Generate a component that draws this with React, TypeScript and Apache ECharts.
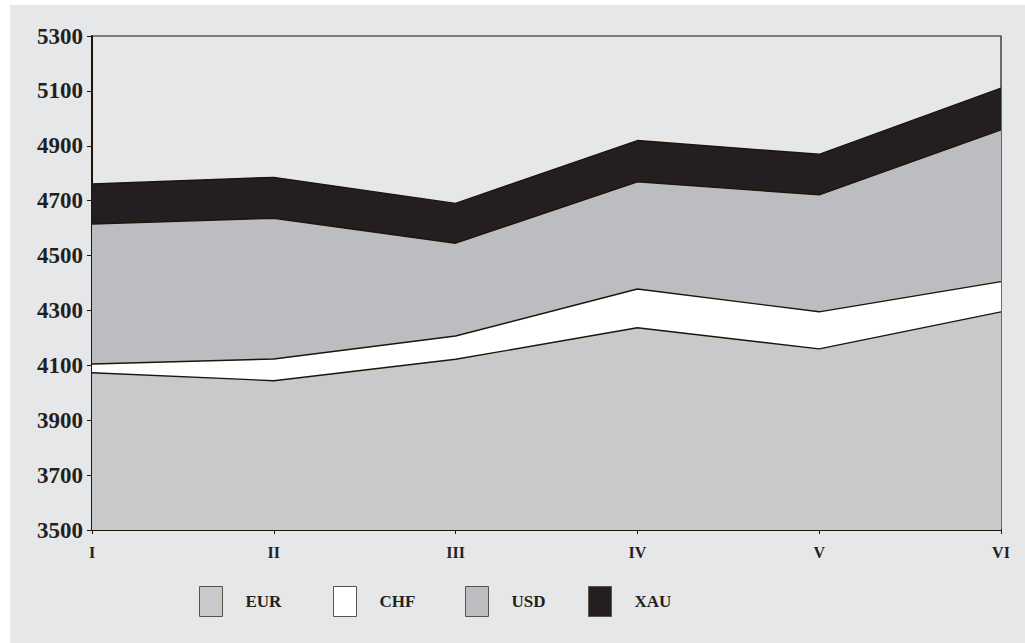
import React, { useEffect, useRef } from "react";
import * as echarts from "echarts";

const categories = ["I", "II", "III", "IV", "V", "VI"];
const seriesNames = ["EUR", "CHF", "USD", "XAU"];
const eurValues = [4073, 4044, 4122, 4237, 4160, 4295];
const chfValues = [32, 79, 85, 141, 135, 110];
const usdValues = [510, 513, 338, 391, 426, 553];
const xauValues = [146, 149, 145, 150, 148, 152];
const yTicks = { min: 3500, max: 5300, interval: 200 };

const fills = ["#c8c9cb", "#ffffff", "#bcbdc1", "#231f20"];
const lineColor = "#1e1408";
const textColor = "#231f20";
const font = "'Liberation Serif', 'Times New Roman', serif";

export default function App() {
  const ref = useRef<HTMLDivElement>(null);
  useEffect(() => {
    if (!ref.current) return;
    const chart = echarts.init(ref.current, undefined, { renderer: "svg" });
    const data = [eurValues, chfValues, usdValues, xauValues];
    const legendLefts = [189, 323, 455, 578];
    chart.setOption({
      animation: false,
      backgroundColor: "#e6e7e9",
      grid: {
        left: 82,
        top: 31,
        right: 24,
        bottom: 113,
        show: true,
        borderColor: lineColor,
        borderWidth: 1.2,
        backgroundColor: "transparent",
      },
      legend: seriesNames.map((n, i) => ({
        data: [
          {
            name: n,
            icon: "rect",
            itemStyle: { color: fills[i], borderColor: "#5a5247", borderWidth: 1 },
          },
        ],
        left: legendLefts[i],
        top: 581,
        padding: 0,
        itemWidth: 23,
        itemHeight: 30,
        selectedMode: false,
        textStyle: {
          fontFamily: font,
          fontWeight: "bold",
          fontSize: 17,
          color: textColor,
          padding: [0, 0, 0, 18],
        },
      })),
      xAxis: {
        type: "category",
        data: categories,
        boundaryGap: false,
        axisLine: { show: true, lineStyle: { color: lineColor, width: 2 } },
        axisTick: { show: true, length: 4, lineStyle: { color: lineColor } },
        axisLabel: {
          fontFamily: font,
          fontWeight: "bold",
          fontSize: 16,
          color: textColor,
          margin: 14,
        },
        splitLine: { show: false },
      },
      yAxis: {
        type: "value",
        min: yTicks.min,
        max: yTicks.max,
        interval: yTicks.interval,
        axisLine: { show: true, lineStyle: { color: lineColor, width: 2 } },
        axisTick: { show: true, length: 5, lineStyle: { color: lineColor } },
        axisLabel: {
          fontFamily: font,
          fontWeight: "bold",
          fontSize: 23,
          color: textColor,
          margin: 9,
          formatter: (v: number) => String(v),
        },
        splitLine: { show: false },
      },
      series: seriesNames.map((n, i) => ({
        name: n,
        type: "line",
        stack: "total",
        data: data[i],
        symbol: "none",
        lineStyle: { color: lineColor, width: 1.4 },
        itemStyle: { color: fills[i] },
        areaStyle: { color: fills[i], opacity: 1, origin: "start" },
      })),
    });
    return () => chart.dispose();
  }, []);
  return (
    <div
      style={{
        position: "fixed",
        left: 0,
        top: 0,
        width: 1025,
        height: 643,
        background: "#ffffff",
      }}
    >
      <div
        ref={ref}
        style={{ position: "absolute", left: 10, top: 5, width: 1015, height: 638 }}
      />
    </div>
  );
}
